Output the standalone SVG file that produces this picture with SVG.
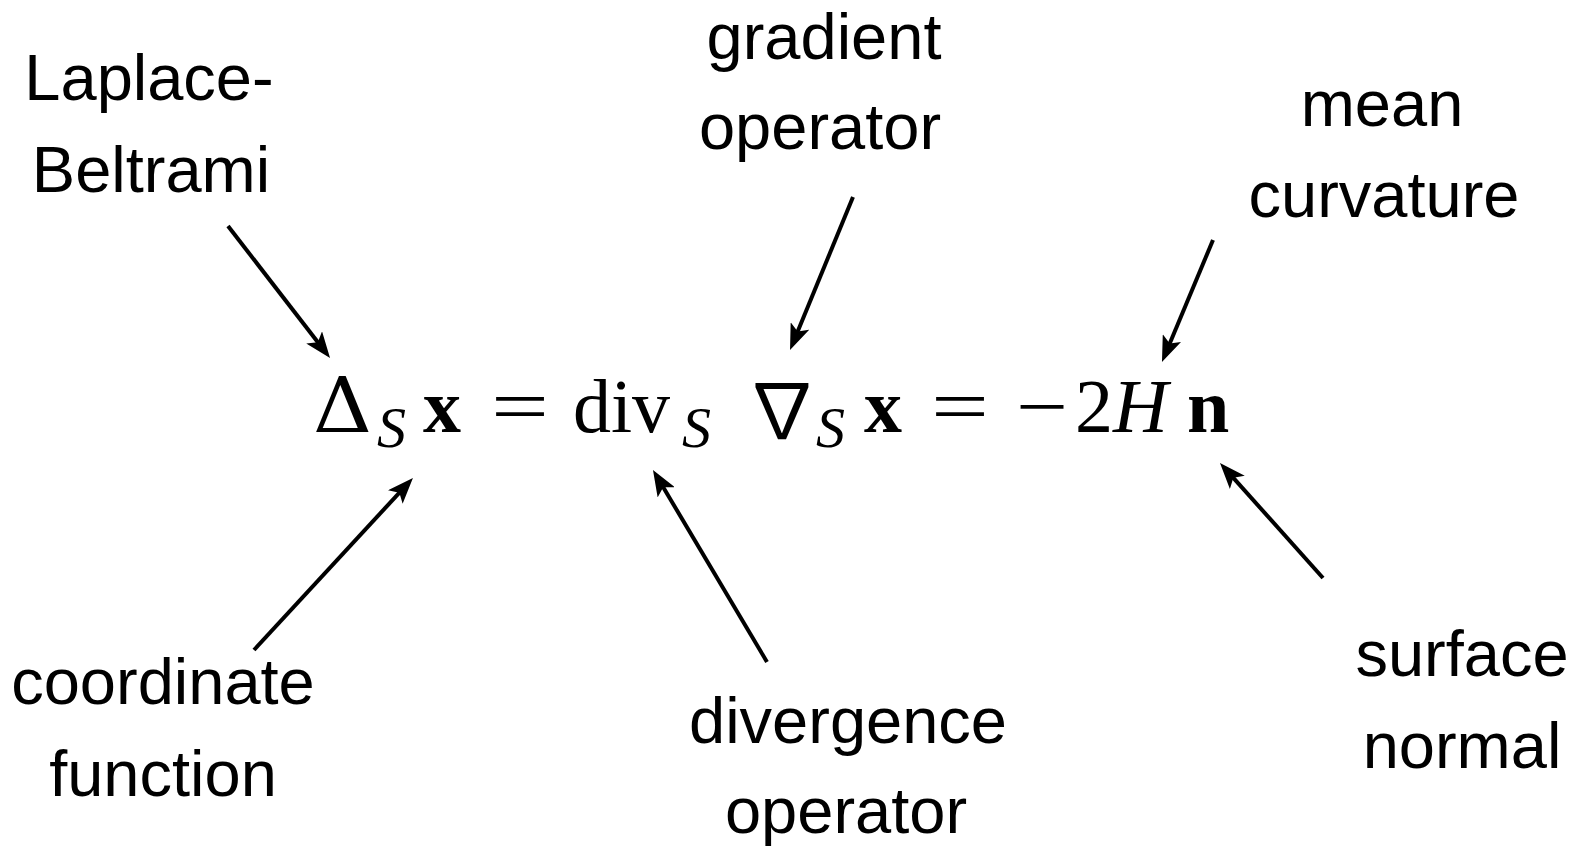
<svg xmlns="http://www.w3.org/2000/svg" width="1579" height="852" viewBox="0 0 1579 852">
<defs>
<style>
.lbl{font-family:"Liberation Sans",Arial,sans-serif;font-size:65px;fill:#000;text-anchor:middle}
.m{font-family:"Liberation Serif","Times New Roman",serif;font-size:76px;fill:#000}
.d{font-family:"DejaVu Serif","Liberation Serif",serif}
.n{font-family:"Noto Sans CJK JP","DejaVu Sans",sans-serif;font-weight:normal;font-style:normal}
.b{font-weight:bold}
.s{font-style:italic;font-size:58px}
.i{font-style:italic}
.arr{stroke:#000;stroke-width:4;fill:none;marker-end:url(#ah)}
</style>
<marker id="ah" viewBox="0 0 26 20" refX="14" refY="10" markerWidth="26" markerHeight="20" orient="auto" markerUnits="userSpaceOnUse">
<path d="M0,0 L26,10 L0,20 L6,10 Z" fill="#000"/>
</marker>
</defs>
<rect width="1579" height="852" fill="#fff"/>
<g id="equation">
<text class="m d" x="313" y="432" textLength="59" lengthAdjust="spacingAndGlyphs">Δ</text>
<text class="m s" x="377" y="447">S</text>
<text class="m b" x="423" y="432">x</text>
<text class="m" x="491" y="432" textLength="58" lengthAdjust="spacingAndGlyphs">=</text>
<text class="m" x="573" y="432">div</text>
<text class="m s" x="682" y="447">S</text>
<text class="m" x="744" y="438"><tspan class="n">∇</tspan><tspan class="s" x="816" y="447">S</tspan></text>
<text class="m b" x="864" y="432">x</text>
<text class="m" x="931" y="432" textLength="58" lengthAdjust="spacingAndGlyphs">=</text>
<text class="m" x="1016" y="432" textLength="52" lengthAdjust="spacingAndGlyphs">−</text>
<text class="m" x="1075" y="432">2</text>
<text class="m i" x="1113" y="432">H</text>
<text class="m b" x="1187" y="432">n</text>
</g>
<g id="laplace-beltrami">
<text class="lbl" x="149" y="100">Laplace-</text>
<text class="lbl" x="151" y="192">Beltrami</text>
</g>
<g id="gradient-operator">
<text class="lbl" x="824" y="59">gradient</text>
<text class="lbl" x="820" y="149">operator</text>
</g>
<g id="mean-curvature">
<text class="lbl" x="1382" y="126">mean</text>
<text class="lbl" x="1384" y="217">curvature</text>
</g>
<g id="coordinate-function">
<text class="lbl" x="163" y="704">coordinate</text>
<text class="lbl" x="163" y="796">function</text>
</g>
<g id="divergence-operator">
<text class="lbl" x="848" y="743">divergence</text>
<text class="lbl" x="846" y="833">operator</text>
</g>
<g id="surface-normal">
<text class="lbl" x="1462" y="676">surface</text>
<text class="lbl" x="1462" y="768">normal</text>
</g>
<g id="connectors">
<line class="arr" x1="228" y1="226" x2="322.7" y2="348.5"/>
<line class="arr" x1="853" y1="197" x2="794.6" y2="338.9"/>
<line class="arr" x1="1213" y1="240" x2="1166.6" y2="350.9"/>
<line class="arr" x1="254" y1="650" x2="404.8" y2="486.8"/>
<line class="arr" x1="767" y1="662" x2="659.1" y2="480.3"/>
<line class="arr" x1="1323" y1="578" x2="1228.0" y2="471.9"/>
</g>
</svg>
